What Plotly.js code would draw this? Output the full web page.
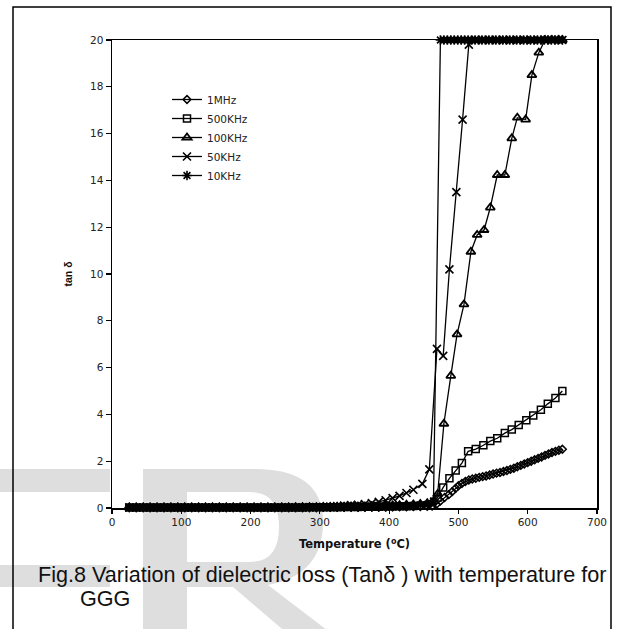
<!DOCTYPE html>
<html>
<head>
<meta charset="utf-8">
<script src="https://cdn.plot.ly/plotly-3.0.1.min.js"></script>
<style>html,body{margin:0;padding:0;background:#fff;}#chart{width:625px;height:629px;}</style>
</head>
<body>
<div id="chart"></div>
<script>
// ---------- data ----------
var seriesNames = ["1MHz", "500KHz", "100KHz", "50KHz", "10KHz"];

var t1MHz = [25,35,45,55,65,75,85,95,105,115,125,135,145,155,165,175,185,195,205,215,225,235,245,255,265,275,285,295,305,315,325,335,345,355,365,375,385,395,405,415,425,435,445,455,462,468,474,480,486,491,496,500,505,510,515,520,525,530,535,540,545,550,555,560,565,570,575,580,585,590,595,600,605,610,615,620,625,630,635,640,645,650];
var v1MHz = [0.02,0.02,0.02,0.02,0.02,0.02,0.02,0.02,0.02,0.02,0.02,0.02,0.02,0.02,0.02,0.02,0.02,0.02,0.02,0.02,0.02,0.02,0.02,0.02,0.02,0.02,0.02,0.02,0.03,0.03,0.03,0.03,0.03,0.03,0.03,0.04,0.04,0.04,0.05,0.05,0.05,0.06,0.06,0.07,0.08,0.15,0.3,0.45,0.57,0.7,0.84,0.95,1.05,1.13,1.2,1.24,1.27,1.31,1.34,1.37,1.41,1.45,1.49,1.52,1.56,1.6,1.65,1.7,1.76,1.82,1.88,1.94,2.0,2.06,2.12,2.18,2.25,2.31,2.37,2.42,2.47,2.51];

var t500KHz = [25,35,45,55,65,75,85,95,105,115,125,135,145,155,165,175,185,195,205,215,225,235,245,255,265,275,285,295,305,315,325,335,345,355,365,375,385,395,405,415,425,435,445,455,462,470,478,487,496,505,514,525,536,546,556,567,577,587,598,608,619,629,640,650];
var v500KHz = [0.02,0.02,0.02,0.02,0.02,0.02,0.02,0.02,0.02,0.02,0.02,0.02,0.02,0.02,0.02,0.02,0.02,0.02,0.02,0.02,0.02,0.02,0.02,0.02,0.02,0.02,0.03,0.03,0.03,0.03,0.03,0.04,0.04,0.04,0.05,0.05,0.05,0.06,0.06,0.07,0.08,0.09,0.1,0.11,0.12,0.45,0.88,1.27,1.6,1.92,2.42,2.52,2.68,2.86,2.98,3.2,3.35,3.55,3.75,3.95,4.2,4.45,4.7,5.0];

var t100KHz = [25,35,45,55,65,75,85,95,105,115,125,135,145,155,165,175,185,195,205,215,225,235,245,255,265,275,285,295,305,315,325,335,345,355,365,375,385,395,405,415,425,435,445,455,462,470,479,489,498,508,518,527,537,546,556,567,577,585,597,606,616,625,635,645,650];
var v100KHz = [0.02,0.02,0.02,0.02,0.02,0.02,0.02,0.02,0.02,0.02,0.02,0.02,0.02,0.02,0.02,0.02,0.02,0.02,0.02,0.02,0.02,0.02,0.02,0.02,0.03,0.03,0.03,0.03,0.04,0.04,0.05,0.05,0.06,0.06,0.07,0.08,0.09,0.1,0.11,0.12,0.14,0.15,0.17,0.2,0.25,0.6,3.6,5.65,7.42,8.7,10.95,11.67,11.88,12.84,14.23,14.23,15.8,16.68,16.6,18.5,19.46,20,20,20,20];

var t50KHz = [25,35,45,55,65,75,85,95,105,115,125,135,145,155,165,175,185,195,205,215,225,235,245,255,265,275,285,295,305,315,325,335,345,355,365,375,385,395,405,415,425,435,448,458,469,478,487,497,506,515,525,535,545,555,565,575,585,595,605,615,625,635,645,650];
var v50KHz = [0.02,0.02,0.02,0.02,0.02,0.02,0.02,0.02,0.02,0.02,0.02,0.02,0.02,0.02,0.02,0.02,0.02,0.02,0.02,0.02,0.02,0.02,0.03,0.03,0.03,0.03,0.04,0.04,0.05,0.06,0.08,0.1,0.12,0.14,0.17,0.21,0.26,0.33,0.42,0.52,0.64,0.78,1.03,1.65,6.8,6.5,10.2,13.5,16.6,19.8,20,20,20,20,20,20,20,20,20,20,20,20,20,20];

var t10KHz = [25,35,45,55,65,75,85,95,105,115,125,135,145,155,165,175,185,195,205,215,225,235,245,255,265,275,285,295,305,315,325,335,345,355,365,375,385,395,405,415,425,435,445,455,464,474,479,484,489,494,499,504,509,514,519,524,529,534,539,544,549,554,559,564,569,574,579,584,589,594,599,604,609,614,619,624,629,634,639,644,650];
var v10KHz = [0.02,0.02,0.02,0.02,0.02,0.02,0.02,0.02,0.02,0.02,0.02,0.02,0.02,0.02,0.02,0.02,0.02,0.02,0.02,0.02,0.02,0.02,0.02,0.02,0.02,0.02,0.02,0.02,0.03,0.03,0.03,0.03,0.04,0.04,0.04,0.05,0.05,0.06,0.07,0.08,0.09,0.1,0.12,0.15,0.3,20,20,20,20,20,20,20,20,20,20,20,20,20,20,20,20,20,20,20,20,20,20,20,20,20,20,20,20,20,20,20,20,20,20,20,20];

var xTicks = [0,100,200,300,400,500,600,700];
var yTicks = [0,2,4,6,8,10,12,14,16,18,20];

var xTitle = "<b>Temperature (<sup>o</sup>C)</b>";
var yTitle = "<b>tan δ</b>";
var captionLine1 = "Fig.8 Variation of dielectric loss (Tanδ ) with temperature for";
var captionLine2 = "GGG";

// ---------- geometry helpers (pixel -> paper) ----------
var M = {l:112, r:28, t:40, b:121};
var W = 625, H = 629;
var PW = W - M.l - M.r, PH = H - M.t - M.b;
function px(x){ return (x - M.l) / PW; }
function py(y){ return (H - M.b - y) / PH; }
function P(x, y){ return px(x).toFixed(4) + "," + py(y).toFixed(4); }

var FONT = "Liberation Sans, Arial, sans-serif";
var TICKFONT = "DejaVu Sans, sans-serif";

var styles = [
  {symbol:"diamond-open", size:6, lw:1.5},
  {symbol:"square-open", size:7, lw:1.5},
  {symbol:"triangle-up-open", size:8, lw:1.8},
  {symbol:"x-thin-open", size:8, lw:1.6},
  {symbol:"asterisk-open", size:8, lw:1.6}
];
var xs = [t1MHz, t500KHz, t100KHz, t50KHz, t10KHz];
var ys = [v1MHz, v500KHz, v100KHz, v50KHz, v10KHz];

var traces = seriesNames.map(function(name, i){
  return {
    type: "scatter", mode: "lines+markers", name: name,
    x: xs[i], y: ys[i], cliponaxis: false,
    line: {color: "#000", width: 1.3},
    marker: {symbol: styles[i].symbol, size: styles[i].size, color: "#000",
             line: {color: "#000", width: styles[i].lw}}
  };
});

var WM = "#dedede";
var rPath = "M" + P(143,469) + " L" + P(255,469) + " Q" + P(323,469) + " " + P(323,522) +
            " Q" + P(323,575) + " " + P(268,585) + " L" + P(340,640) + " L" + P(295,640) +
            " L" + P(233,587) + " L" + P(187,587) + " L" + P(187,640) + " L" + P(143,640) + " Z" +
            " M" + P(187,492) + " L" + P(187,562) + " L" + P(250,562) + " Q" + P(279,562) + " " + P(279,527) +
            " Q" + P(279,492) + " " + P(250,492) + " Z";
var shapes = [
  // watermark pieces
  {type:"rect", xref:"paper", yref:"paper", layer:"below", line:{width:0}, fillcolor:WM,
   x0:px(0), x1:px(110), y0:py(469), y1:py(492)},
  {type:"rect", xref:"paper", yref:"paper", layer:"below", line:{width:0}, fillcolor:WM,
   x0:px(0), x1:px(110), y0:py(565), y1:py(587)},
  {type:"path", xref:"paper", yref:"paper", layer:"below", line:{width:0}, fillcolor:WM, fillrule:"evenodd",
   path: rPath},
  // outer frame
  {type:"rect", xref:"paper", yref:"paper", layer:"above", line:{color:"#000", width:1.5}, fillcolor:"rgba(0,0,0,0)",
   x0:px(13), x1:px(611), y0:py(7), y1:py(640)}
];

var layout = {
  width: W, height: H,
  margin: M,
  paper_bgcolor: "#fff",
  plot_bgcolor: "rgba(0,0,0,0)",
  font: {family: FONT, color: "#111", size: 10},
  showlegend: true,
  legend: {x: px(167), y: py(85), xanchor: "left", yanchor: "top",
           bgcolor: "rgba(0,0,0,0)", borderwidth: 0,
           font: {family: TICKFONT, size: 10.5, color: "#222"}},
  xaxis: {range: [0, 700], tickvals: xTicks, ticktext: xTicks.map(String),
          showline: true, linecolor: "#000", linewidth: 1.5, mirror: true,
          ticks: "outside", ticklen: 4, tickcolor: "#000", tickwidth: 1.2,
          showgrid: false, zeroline: false, automargin: false,
          tickfont: {family: TICKFONT, size: 10.5, color: "#222"},
          title: {text: xTitle, font: {family: TICKFONT, size: 11.5, color: "#111"}, standoff: 13}},
  yaxis: {range: [0, 20], tickvals: yTicks, ticktext: yTicks.map(String),
          showline: true, linecolor: "#000", linewidth: 1.5, mirror: true,
          ticks: "outside", ticklen: 5, tickcolor: "#000", tickwidth: 1.2,
          showgrid: false, zeroline: false, automargin: false,
          tickfont: {family: TICKFONT, size: 10.5, color: "#222"},
          title: {text: yTitle, font: {family: FONT, size: 10.5, color: "#111"}, standoff: 15}},
  shapes: shapes,
  annotations: [
    {xref:"paper", yref:"paper", x: px(36), y: py(574), xanchor:"left", yanchor:"middle", showarrow:false,
     text: captionLine1, font:{family: FONT, size: 21.6, color:"#111"}},
    {xref:"paper", yref:"paper", x: px(78), y: py(598), xanchor:"left", yanchor:"middle", showarrow:false,
     text: captionLine2, font:{family: FONT, size: 21.6, color:"#111"}}
  ]
};

Plotly.newPlot("chart", traces, layout, {staticPlot: true, displayModeBar: false});
</script>
</body>
</html>
